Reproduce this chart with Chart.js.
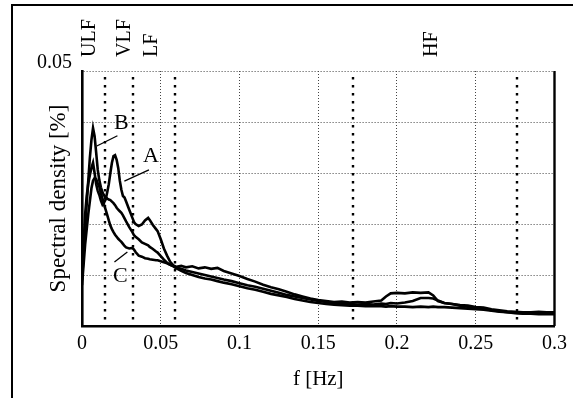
<!DOCTYPE html>
<html>
<head>
<meta charset="utf-8">
<script src="https://cdn.jsdelivr.net/npm/chart.js@4.4.1/dist/chart.umd.min.js"></script>
<style>
html,body{margin:0;padding:0;background:#fff;}
#wrap{width:573px;height:398px;position:relative;}
</style>
</head>
<body>
<div id="wrap"><canvas id="c" width="573" height="398"></canvas></div>
<script>
// ---- data ----
const freq = [0,0.001,0.002,0.003,0.004,0.005,0.006,0.007,0.008,0.009,0.010,0.011,0.012,0.013,0.014,0.015,0.016,0.017,0.018,0.019,0.020,0.021,0.022,0.023,0.024,0.025,0.026,0.027,0.028,
  0.030,0.032,0.033,0.034,0.036,0.038,0.040,0.042,0.043,0.045,0.047,0.048,0.050,0.052,0.054,0.056,0.058,0.060,
  0.063,0.066,0.070,0.074,0.078,0.082,0.086,0.090,0.095,
  0.100,0.105,0.110,0.115,0.120,0.125,0.130,0.135,0.140,0.145,0.150,0.155,0.160,0.165,0.170,0.175,0.180,0.185,0.190,
  0.193,0.196,0.200,0.205,0.210,0.215,0.220,0.223,0.226,
  0.230,0.235,0.240,0.245,0.250,0.255,0.260,0.265,0.270,0.275,0.280,0.285,0.290,0.295,0.300];

const seriesA = [0.010,0.016,0.022,0.0255,0.028,0.0296,0.031,0.032,0.030,0.0278,0.0265,0.0257,0.0246,0.0238,0.0242,0.0248,0.0262,0.0278,0.030,0.032,0.0333,0.0335,0.0326,0.031,0.0285,0.0267,0.0255,0.0252,0.0244,
  0.0228,0.0212,0.0204,0.0200,0.0196,0.0199,0.0207,0.0212,0.0208,0.0198,0.0190,0.0186,0.0170,0.0152,0.0138,0.0126,0.0119,0.0116,
  0.0118,0.0115,0.0117,0.0113,0.0115,0.0112,0.0114,0.0108,0.0103,
  0.0098,0.0092,0.0087,0.0081,0.0076,0.0072,0.0067,0.0062,0.0058,0.0054,0.0051,0.0049,0.0047,0.0048,0.0046,0.0047,0.0046,0.0048,0.0050,
  0.0058,0.0064,0.0065,0.0064,0.0066,0.0065,0.0066,0.0060,0.0049,
  0.0045,0.0043,0.0041,0.0040,0.0037,0.0036,0.0033,0.0031,0.0029,0.0028,0.0027,0.0027,0.0028,0.0027,0.0027];

const seriesB = [0.009,0.014,0.019,0.024,0.0286,0.033,0.0365,0.0388,0.0372,0.0340,0.0306,0.0286,0.0272,0.0262,0.0256,0.0253,0.0250,0.0248,0.0247,0.0244,0.0241,0.0237,0.0232,0.0228,0.0225,0.0222,0.0217,0.0211,0.0205,
  0.0194,0.0184,0.0178,0.0175,0.0170,0.0164,0.0161,0.0158,0.0155,0.0151,0.0146,0.0144,0.0137,0.0130,0.0124,0.0120,0.0118,0.0114,
  0.0112,0.0109,0.0106,0.0103,0.0100,0.0097,0.0094,0.0091,0.0088,
  0.0084,0.0080,0.0077,0.0073,0.0069,0.0065,0.0061,0.0058,0.0055,0.0052,0.0049,0.0047,0.0045,0.0044,0.0043,0.0042,0.0043,0.0042,0.0044,
  0.0043,0.0045,0.0044,0.0046,0.0049,0.0055,0.0055,0.0054,0.0050,
  0.0045,0.0043,0.0040,0.0038,0.0035,0.0034,0.0031,0.0029,0.0027,0.0026,0.0025,0.0025,0.0026,0.0025,0.0025];

const seriesC = [0.008,0.012,0.016,0.019,0.022,0.0245,0.027,0.0285,0.029,0.0288,0.028,0.0273,0.026,0.025,0.0238,0.0228,0.0218,0.0207,0.0197,0.0190,0.0184,0.0179,0.0175,0.0171,0.0168,0.0165,0.0161,0.0157,0.0154,
  0.0152,0.0153,0.0150,0.0145,0.0138,0.0136,0.0133,0.0132,0.0131,0.0130,0.0129,0.0129,0.0127,0.0125,0.0123,0.0120,0.0117,0.0113,
  0.0108,0.0104,0.0100,0.0096,0.0093,0.0091,0.0088,0.0085,0.0082,
  0.0078,0.0074,0.0071,0.0067,0.0063,0.0060,0.0057,0.0053,0.0050,0.0047,0.0045,0.0043,0.0042,0.0041,0.0040,0.0040,0.0039,0.0039,0.0039,
  0.0038,0.0039,0.0038,0.0038,0.0037,0.0038,0.0037,0.0038,0.0037,
  0.0037,0.0036,0.0035,0.0034,0.0033,0.0032,0.0030,0.0028,0.0027,0.0025,0.0024,0.0024,0.0023,0.0023,0.0023];

const xTickLabels = ['0','0.05','0.1','0.15','0.2','0.25','0.3'];
const yTickLabel = '0.05';

const bandEdges = [0.0145, 0.0325, 0.059, 0.172, 0.276];
const bandNames = ['ULF','VLF','LF','HF'];
const bandNameFreq = [0.005, 0.027, 0.044, 0.222];

const curveNames = ['A','B','C'];
const curveNameAt = [[0.0438,0.0333],[0.025,0.0398],[0.0244,0.0098]];
const curvePointer = [[[0.0425,0.0306],[0.0269,0.0284]],[[0.0225,0.0373],[0.0094,0.0353]],[[0.0206,0.01255],[0.0288,0.0145]]];

// ---- chart ----
const SERIF = "'Liberation Serif', 'Times New Roman', serif";
const toXY = vals => freq.map((f,i)=>({x:f,y:vals[i]}));

const overlay = {
  id:'overlay',
  beforeDraw(chart){
    const ctx = chart.ctx;
    ctx.save();
    ctx.fillStyle='#fff'; ctx.fillRect(0,0,chart.width,chart.height);
    ctx.strokeStyle='#000'; ctx.lineWidth=2;
    ctx.beginPath(); ctx.moveTo(12,398); ctx.lineTo(12,5); ctx.lineTo(573,5); ctx.stroke();
    ctx.restore();
  },
  beforeDatasetsDraw(chart){
    const {ctx, chartArea:a, scales:{x,y}} = chart;
    ctx.save();
    ctx.strokeStyle='#000'; ctx.lineWidth=2.4; ctx.setLineDash([2.4,5.6]);
    bandEdges.forEach(f=>{
      const px = Math.round(x.getPixelForValue(f));
      ctx.beginPath(); ctx.moveTo(px,a.top+6); ctx.lineTo(px,a.bottom); ctx.stroke();
    });
    ctx.restore();
  },
  afterDraw(chart){
    const {ctx, chartArea:a, scales:{x,y}} = chart;
    ctx.save();
    ctx.strokeStyle='#000'; ctx.lineWidth=2.4;
    ctx.beginPath(); ctx.moveTo(a.right,a.top); ctx.lineTo(a.right,a.bottom); ctx.stroke();
    ctx.fillStyle='#000'; ctx.font = '20px '+SERIF;
    ctx.textAlign='left'; ctx.textBaseline='middle';
    bandNames.forEach((n,i)=>{
      ctx.save();
      ctx.translate(x.getPixelForValue(bandNameFreq[i]), a.top-14);
      ctx.rotate(-Math.PI/2);
      ctx.fillText(n,0,0);
      ctx.restore();
    });
    ctx.font = '22px '+SERIF; ctx.textAlign='center';
    curveNames.forEach((n,i)=>{
      ctx.fillText(n, x.getPixelForValue(curveNameAt[i][0]), y.getPixelForValue(curveNameAt[i][1]));
      const p = curvePointer[i];
      ctx.lineWidth=1.3;
      ctx.beginPath();
      ctx.moveTo(x.getPixelForValue(p[0][0]), y.getPixelForValue(p[0][1]));
      ctx.lineTo(x.getPixelForValue(p[1][0]), y.getPixelForValue(p[1][1]));
      ctx.stroke();
    });
    ctx.restore();
  }
};

const lineStyle = {borderColor:'#000', borderWidth:2.6, pointRadius:0, tension:0, fill:false};

new Chart(document.getElementById('c'), {
  type:'line',
  data:{datasets:[
    Object.assign({label:'A', data:toXY(seriesA)}, lineStyle),
    Object.assign({label:'B', data:toXY(seriesB)}, lineStyle),
    Object.assign({label:'C', data:toXY(seriesC)}, lineStyle)
  ]},
  options:{
    responsive:false, animation:false, devicePixelRatio:1,
    layout:{padding:{top:71,right:11,left:0,bottom:0}},
    plugins:{legend:{display:false}, tooltip:{enabled:false}},
    scales:{
      x:{type:'linear', min:0, max:0.3,
        afterBuildTicks(s){ s.ticks = xTickLabels.map((t,i)=>({value:i*0.05})); },
        afterFit(s){ s.height = 72; },
        ticks:{color:'#000', font:{family:SERIF,size:20}, padding:6, maxRotation:0, autoSkip:false,
          callback:(v,i)=>xTickLabels[i]},
        grid:{color:'#444', lineWidth:1, drawTicks:false},
        border:{display:true, color:'#000', width:2.6, dash:[1,2]},
        title:{display:true, text:'f [Hz]', color:'#000', font:{family:SERIF,size:21}, padding:{top:0,bottom:6}}
      },
      y:{type:'linear', min:0, max:0.05,
        afterBuildTicks(s){ s.ticks = [0,0.01,0.02,0.03,0.04,0.05].map(v=>({value:v})); },
        afterFit(s){ s.width = 82; },
        ticks:{color:'#000', font:{family:SERIF,size:20}, padding:10, labelOffset:-8,
          callback:(v)=> Math.abs(v-0.05)<1e-9 ? yTickLabel : ''},
        grid:{color:'#444', lineWidth:1, drawTicks:false},
        border:{display:true, color:'#000', width:2.6, dash:[1,2]},
        title:{display:true, text:'Spectral density [%]', color:'#000', font:{family:SERIF,size:23}, padding:{top:45,bottom:0}}
      }
    }
  },
  plugins:[overlay]
});
</script>
</body>
</html>
